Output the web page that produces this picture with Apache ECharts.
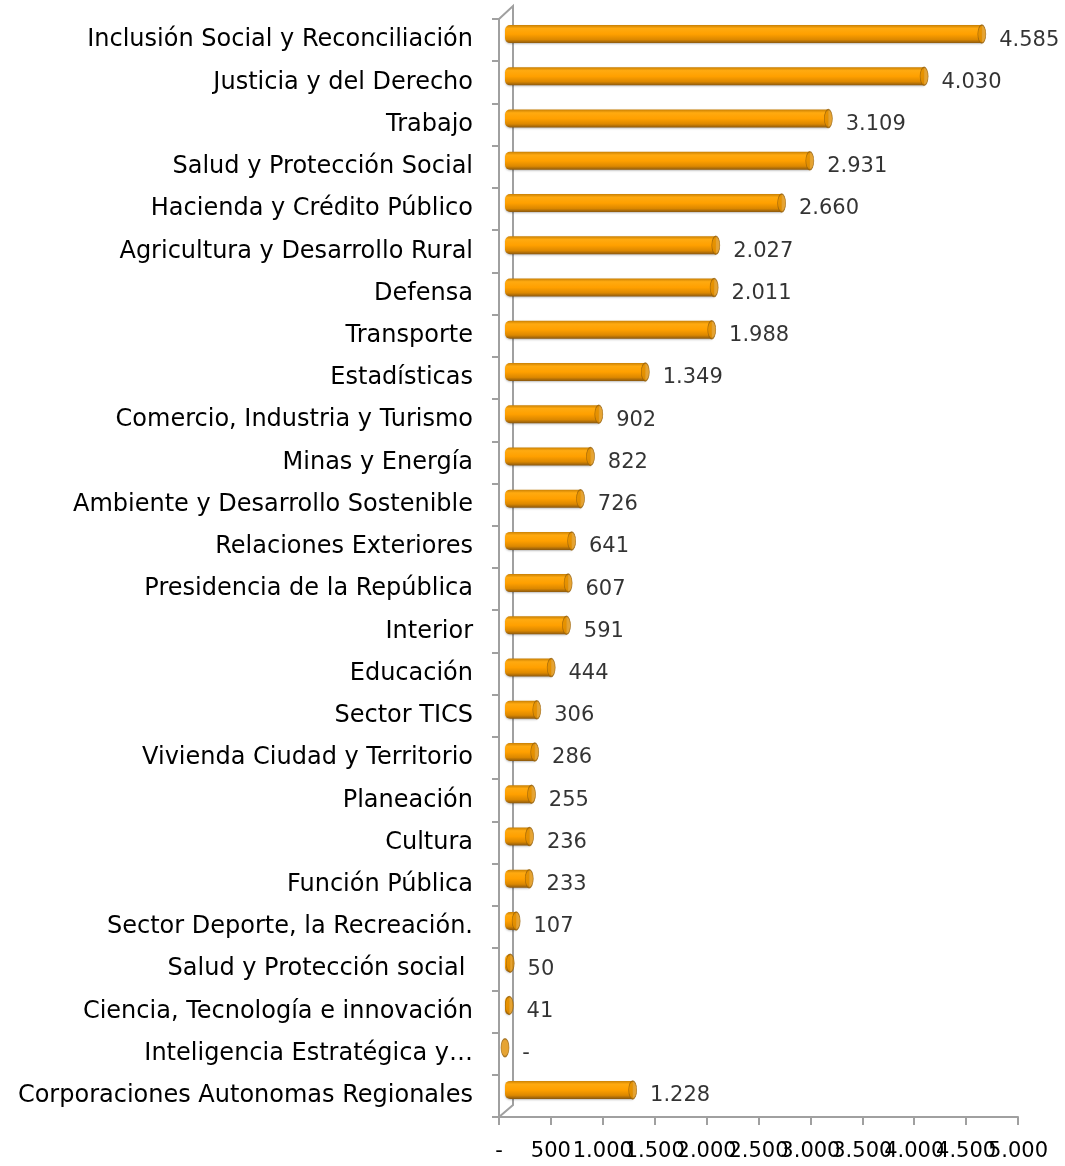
<!DOCTYPE html>
<html>
<head>
<meta charset="utf-8">
<script src="https://cdn.jsdelivr.net/npm/echarts@6/dist/echarts.min.js"></script>
<style>
  html, body { margin: 0; padding: 0; background: #fff; }
  #chart { width: 1065px; height: 1166px; }
</style>
</head>
<body>
<div id="chart"></div>
<script>
const sectors = [
  'Inclusión Social y Reconciliación',
  'Justicia y del Derecho',
  'Trabajo',
  'Salud y Protección Social',
  'Hacienda y Crédito Público',
  'Agricultura y Desarrollo Rural',
  'Defensa',
  'Transporte',
  'Estadísticas',
  'Comercio, Industria y Turismo',
  'Minas y Energía',
  'Ambiente y Desarrollo Sostenible',
  'Relaciones Exteriores',
  'Presidencia de la República',
  'Interior',
  'Educación',
  'Sector TICS',
  'Vivienda Ciudad y Territorio',
  'Planeación',
  'Cultura',
  'Función Pública',
  'Sector Deporte, la Recreación.',
  'Salud y Protección social ',
  'Ciencia, Tecnología e innovación',
  'Inteligencia Estratégica y…',
  'Corporaciones Autonomas Regionales'
];
const amounts = [4585, 4030, 3109, 2931, 2660, 2027, 2011, 1988, 1349, 902, 822, 726, 641, 607, 591, 444, 306, 286, 255, 236, 233, 107, 50, 41, 0, 1228];
const tickLabels = ['-', '500', '1.000', '1.500', '2.000', '2.500', '3.000', '3.500', '4.000', '4.500', '5.000'];
const axisMax = 5000;
const axisStep = 500;

// 1.228 style, zero shown as "-"
const fmt = function (v) {
  if (!v) return '-';
  return String(v).replace(/\B(?=(\d{3})+(?!\d))/g, '.');
};

const chart = echarts.init(document.getElementById('chart'));

const barFill = new echarts.graphic.LinearGradient(0, 0, 0, 1, [
  {offset: 0, color: '#c98004'},
  {offset: 0.18, color: '#ffaa10'},
  {offset: 0.5, color: '#ffa000'},
  {offset: 0.8, color: '#dc8800'},
  {offset: 1, color: '#8a580f'}
]);

const axisGray = '#a0a0a0';

const option = {
  animation: false,
  grid: [
    // front plane: axes
    {left: 499, right: 47, top: 19, bottom: 49, containLabel: false},
    // depth plane: bars, shifted back
    {left: 505, right: 40, top: 13, bottom: 55, containLabel: false}
  ],
  xAxis: [{
    gridIndex: 0,
    type: 'value',
    position: 'bottom',
    min: 0,
    max: axisMax,
    interval: axisStep,
    splitLine: {show: false},
    axisLine: {show: true, lineStyle: {color: axisGray, width: 2}},
    axisTick: {show: true, length: 8, lineStyle: {color: axisGray, width: 2}},
    axisLabel: {show: false}
  }, {
    gridIndex: 1,
    type: 'value',
    min: 0,
    max: axisMax,
    show: false
  }, {
    // tick labels, all shown even where they overlap
    gridIndex: 0,
    type: 'category',
    position: 'bottom',
    boundaryGap: false,
    data: tickLabels,
    axisLine: {show: false},
    axisTick: {show: false},
    axisLabel: {
      interval: 0,
      margin: 24,
      color: '#000',
      fontFamily: 'DejaVu Sans',
      fontSize: 21
    }
  }],
  yAxis: [{
    gridIndex: 0,
    type: 'category',
    inverse: true,
    data: sectors,
    axisLine: {show: true, lineStyle: {color: axisGray, width: 2}},
    axisTick: {show: true, length: 7, lineStyle: {color: axisGray, width: 2}},
    axisLabel: {
      margin: 26,
      color: '#000',
      fontFamily: 'DejaVu Sans',
      fontSize: 24,
      padding: [7, 0, 0, 0],
      interval: 0
    }
  }, {
    gridIndex: 1,
    type: 'category',
    inverse: true,
    data: sectors,
    show: false
  }],
  series: [{
    type: 'bar',
    xAxisIndex: 1,
    yAxisIndex: 1,
    data: amounts,
    barWidth: 18,
    itemStyle: {
      color: barFill,
      borderRadius: [5, 0, 0, 5],
      shadowColor: 'rgba(0,0,0,0.25)',
      shadowBlur: 2,
      shadowOffsetY: 1
    }
  }, {
    // cylinder end cap + value label
    type: 'scatter',
    xAxisIndex: 1,
    yAxisIndex: 1,
    data: amounts,
    symbol: 'circle',
    symbolSize: [8, 18],
    itemStyle: {
      color: '#e08d00',
      borderColor: '#96600a',
      borderWidth: 1
    },
    label: {
      show: true,
      position: 'right',
      distance: 13,
      offset: [0, 6],
      color: '#000',
      fontFamily: 'DejaVu Sans',
      fontSize: 21,
      formatter: function (p) { return fmt(p.value); }
    },
    z: 3
  }],
  graphic: [{
    // back wall edge of the 3D frame
    type: 'polyline',
    shape: {points: [[499, 19], [513, 6], [513, 1105], [499, 1117]]},
    style: {stroke: axisGray, lineWidth: 2, fill: null},
    z: 0
  }]
};

chart.setOption(option);
</script>
</body>
</html>
